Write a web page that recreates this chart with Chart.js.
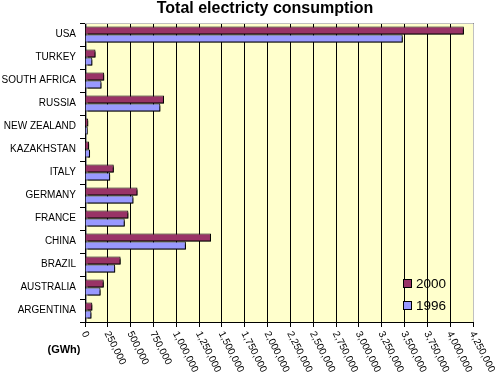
<!DOCTYPE html>
<html lang="en">
<head>
<meta charset="UTF-8">
<title>Total electricty consumption</title>
<script src="https://cdn.jsdelivr.net/npm/chart.js"></script>
<style>
    body {
        margin: 0;
        padding: 0;
        background: #fff;
    }
    .chart-box {
        width: 500px;
        height: 377px;
    }
</style>
</head>
<body>
<div class="chart-box">
    <canvas id="consumptionChart" width="500" height="377"></canvas>
</div>
<script>
    // datos (GWh)
    const countries = ['USA', 'TURKEY', 'SOUTH AFRICA', 'RUSSIA', 'NEW ZEALAND', 'KAZAKHSTAN',
        'ITALY', 'GERMANY', 'FRANCE', 'CHINA', 'BRAZIL', 'AUSTRALIA', 'ARGENTINA'];
    const years = ['2000', '1996'];
    const values2000 = [4150000, 115000, 210000, 865000, 35000, 45000,
        315000, 575000, 475000, 1380000, 390000, 205000, 80000];
    const values1996 = [3480000, 80000, 180000, 825000, 30000, 55000,
        275000, 530000, 435000, 1105000, 330000, 170000, 70000];
    const axisMax = 4250000;
    const axisStep = 250000;
    const titleText = 'Total electricty consumption';
    const unitLabel = '(GWh)';

    const FONT = '"Liberation Sans", Arial, sans-serif';

    // fondo amarillo del area de grafico
    const plotBackground = {
        id: 'plotBackground',
        beforeDraw(chart) {
            const { ctx, chartArea: a } = chart;
            ctx.save();
            ctx.fillStyle = '#FFFFCC';
            ctx.fillRect(a.left, a.top, a.right - a.left, a.bottom - a.top);
            ctx.restore();
        },
        beforeDatasetsDraw(chart) {
            const { ctx, chartArea: a } = chart;
            ctx.save();
            ctx.strokeStyle = '#C0C0C0';
            ctx.lineWidth = 1;
            ctx.beginPath();
            ctx.moveTo(a.left, a.top + 0.5);
            ctx.lineTo(a.right + 0.5, a.top + 0.5);
            ctx.lineTo(a.right + 0.5, a.bottom);
            ctx.stroke();
            // borde gris junto al eje vertical
            ctx.strokeStyle = '#A0A0A0';
            ctx.beginPath();
            ctx.moveTo(a.left + 1.5, a.top + 1);
            ctx.lineTo(a.left + 1.5, a.bottom);
            ctx.stroke();
            ctx.restore();
        }
    };

    // sombra negra de las barras
    const barShadow = {
        id: 'barShadow',
        beforeDatasetDraw(chart) {
            const ctx = chart.ctx;
            ctx.save();
            ctx.shadowColor = '#000';
            ctx.shadowOffsetX = 2;
            ctx.shadowOffsetY = 2;
            ctx.shadowBlur = 0;
        },
        afterDatasetDraw(chart) {
            chart.ctx.restore();
        }
    };

    // titulo, etiquetas inclinadas del eje x, leyenda y unidad
    const extraLabels = {
        id: 'extraLabels',
        afterDraw(chart) {
            const ctx = chart.ctx;
            const xs = chart.scales.x;
            ctx.save();
            ctx.fillStyle = '#000';

            ctx.font = 'bold 16px ' + FONT;
            ctx.textAlign = 'center';
            ctx.textBaseline = 'middle';
            ctx.fillText(titleText, 265, 9);

            ctx.font = '10px ' + FONT;
            ctx.textAlign = 'left';
            xs.ticks.forEach((t, i) => {
                const px = xs.getPixelForTick(i);
                ctx.save();
                ctx.translate(px - 1, xs.top + 10);
                ctx.rotate(63 * Math.PI / 180);
                ctx.fillText(t.label, 0, 0);
                ctx.restore();
            });

            ctx.font = 'bold 11px ' + FONT;
            ctx.textAlign = 'center';
            ctx.fillText(unitLabel, 64, 350);

            // leyenda dentro del area
            const lx = chart.chartArea.right - 70;
            const ly = chart.chartArea.bottom - 39;
            ctx.font = '13.5px ' + FONT;
            ctx.textAlign = 'left';
            chart.data.datasets.forEach((d, i) => {
                const y = ly + i * 22;
                ctx.fillStyle = d.backgroundColor;
                ctx.fillRect(lx, y - 4, 8, 8);
                ctx.strokeStyle = '#000';
                ctx.lineWidth = 1;
                ctx.strokeRect(lx + 0.5, y - 3.5, 8, 8);
                ctx.fillStyle = '#000';
                ctx.fillText(d.label, lx + 13, y + 1);
            });
            ctx.restore();
        }
    };

    const ctx = document.getElementById('consumptionChart').getContext('2d');
    new Chart(ctx, {
        type: 'bar',
        data: {
            labels: countries,
            datasets: [
                { label: years[0], data: values2000, backgroundColor: '#993366', borderColor: '#000', borderWidth: 1 },
                { label: years[1], data: values1996, backgroundColor: '#9999FF', borderColor: '#000', borderWidth: 1 }
            ]
        },
        options: {
            indexAxis: 'y',
            responsive: false,
            animation: false,
            devicePixelRatio: 1,
            categoryPercentage: 0.7,
            barPercentage: 1.0,
            layout: { padding: { left: 0, right: 27, top: 23, bottom: 0 } },
            plugins: {
                legend: { display: false },
                tooltip: { enabled: false },
                title: { display: false }
            },
            scales: {
                x: {
                    min: 0,
                    max: axisMax,
                    ticks: {
                        stepSize: axisStep,
                        display: false,
                        callback: v => v.toLocaleString('en-US')
                    },
                    grid: { color: '#000', lineWidth: 1, tickLength: 5, drawTicks: true },
                    border: { color: '#000', width: 1 },
                    afterFit: s => { s.height = 55; }
                },
                y: {
                    ticks: {
                        color: '#000',
                        font: { family: FONT, size: 10 },
                        padding: 4,
                        autoSkip: false
                    },
                    grid: { drawOnChartArea: false, color: '#000', tickLength: 5, offset: true },
                    border: { color: '#000', width: 1 },
                    afterFit: s => { s.width = 85; }
                }
            }
        },
        plugins: [plotBackground, barShadow, extraLabels]
    });
</script>
</body>
</html>
